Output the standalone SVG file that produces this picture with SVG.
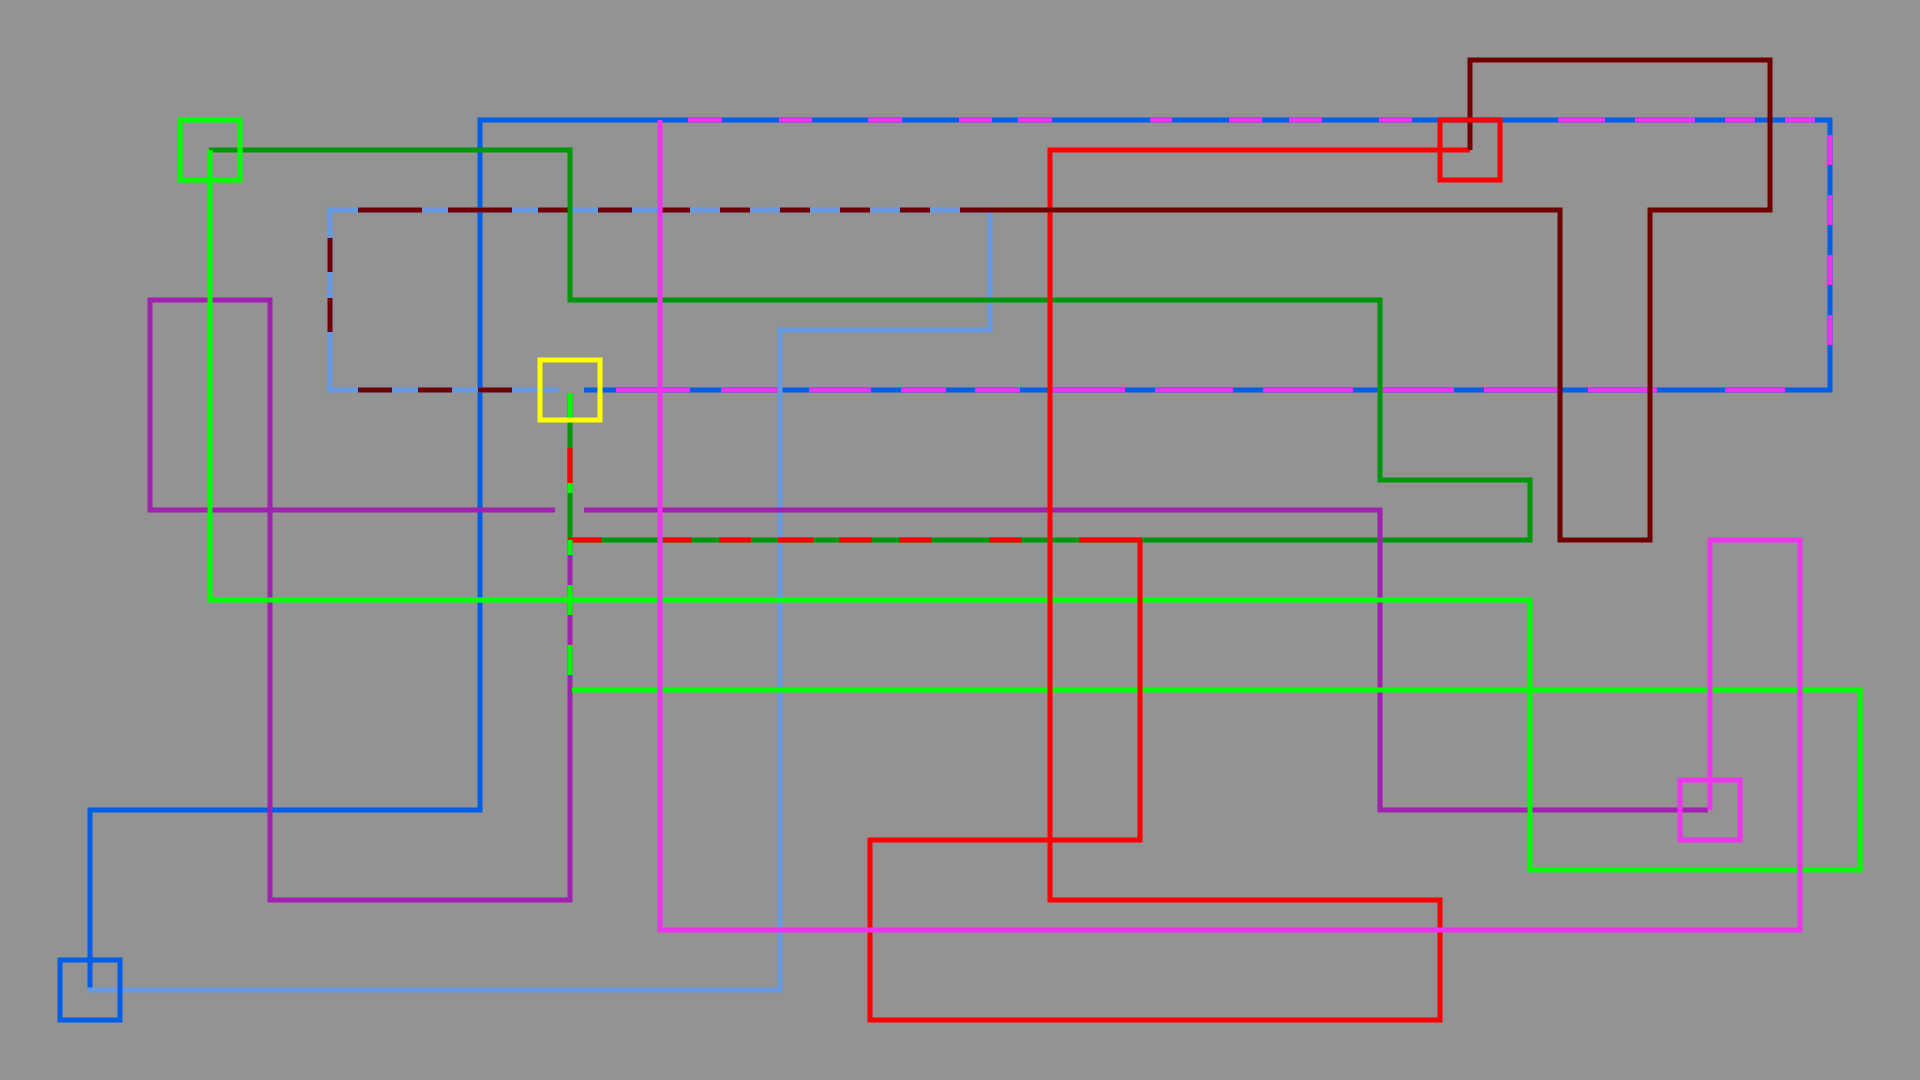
<svg xmlns="http://www.w3.org/2000/svg" width="1920" height="1080" viewBox="0 0 1920 1080">
<style>
.c{fill:none;stroke-width:5;stroke-linejoin:miter;stroke-linecap:butt}
.n{fill:none;stroke-width:5}
.blue{stroke:#005de8}.mag{stroke:#ee33ee}.lb{stroke:#6699e0}.dr{stroke:#700000}
.red{stroke:#ff0000}.dg{stroke:#00960a}.lg{stroke:#00ff00}.pur{stroke:#a020b0}.yel{stroke:#ffff00}
</style>
<rect width="1920" height="1080" fill="#939393"/>
<g id="connectors">
<path class="c blue" d="M90,988 V810 H480 V120 H1830 V390 H584"/>
<path class="c mag" d="M688,120H722 M779,120H812 M868,120H902 M959,120H992 M1018,120H1052 M1150,120H1172 M1229,120H1262 M1289,120H1322 M1379,120H1412 M1558,120H1605 M1635,120H1695 M1725,120H1755 M1785,120H1815 M1830,135V165 M1830,195V225 M1830,255V285 M1830,315V345 M616,390H690 M721,390H781 M809,390H871 M901,390H946 M975,390H1020 M1050,390H1125 M1155,390H1233 M1263,390H1353 M1382,390H1454 M1484,390H1559 M1588,390H1657 M1725,390H1785"/>
<path class="c lb" d="M88,990 H780 V330 H990 V210 H330 V390 H559"/>
<path class="c dr" d="M358,210H422 M448,210H512 M538,210H572 M598,210H632 M662,210H690 M720,210H750 M780,210H810 M840,210H870 M900,210H930 M960,210H990 M330,238V272 M330,298V332 M358,390H392 M418,390H452 M478,390H512"/>
<path class="c dg" d="M209,150 H570 V300 H1380 V480 H1530 V540 H570 V393"/>
<path class="c red" d="M568,540H602 M663,540H692 M719,540H751 M778,540H813 M839,540H872 M899,540H932 M989,540H1022 M1079,540H1142 M570,448V483"/>
<path class="c pur" d="M1708,810 H1380 V510 H584 M555,510 H150 V300 H270 V900 H570 V540"/>
<path class="c lg" d="M210,150 V600 H1530 V870 H1860 V690 H572 M570,393V418 M570,483V493 M570,540V555 M570,585V615 M570,645V675"/>
<path class="c red" d="M1470,150 H1050 V900 H1440 V1020 H870 V840 H1140 V540"/>
<path class="c dr" d="M1470,150 V60 H1770 V210 H1650 V540 H1560 V210 H990"/>
<path class="c mag" d="M1710,810 V540 H1800 V930 H660 V120"/>
</g>
<g id="node-green"><rect class="n lg" x="180" y="120" width="60" height="60"/></g>
<g id="node-blue"><rect class="n blue" x="60" y="960" width="60" height="60"/></g>
<g id="node-yellow"><rect class="n yel" x="540" y="360" width="60" height="60"/></g>
<g id="node-red"><rect class="n red" x="1440" y="120" width="60" height="60"/></g>
<g id="node-magenta"><rect class="n mag" x="1680" y="780" width="60" height="60"/></g>
</svg>
